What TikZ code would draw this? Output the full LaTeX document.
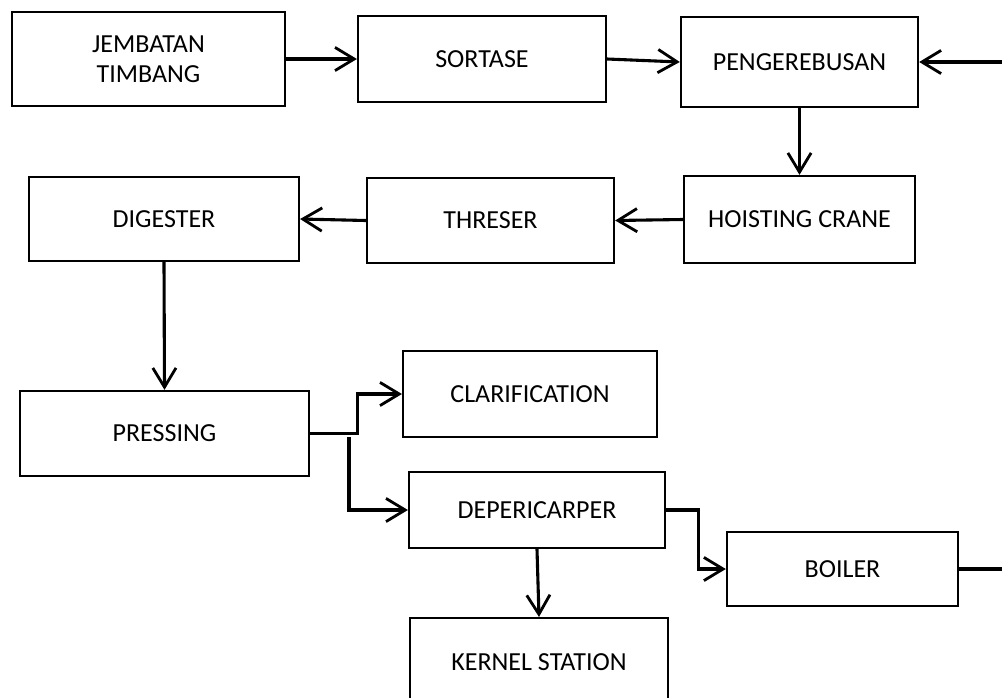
\documentclass[tikz,border=0pt]{standalone}
\usepackage{fontspec}
\setmainfont{Carlito}
\usepackage{tikz}
\usetikzlibrary{positioning, arrows.meta, calc}

\begin{document}
\begin{tikzpicture}[
  x=0.025cm, y=-0.025cm,
  every node/.style={font=\fontsize{18.5}{21.5}\selectfont},
  box/.style={draw, line width=1.5pt, align=center, inner sep=2pt},
  flow/.style={-{Straight Barb[length=4.8mm,width=5.8mm,line width=2pt]},
               line width=2.2pt, line join=miter},
  link/.style={line width=2.2pt},
]
\useasboundingbox (0,0) rectangle (1002,698);

% --- free ends at the page edge ---
\coordinate (inR) at (1010,62);
\coordinate (outR) at (1010,569);
\coordinate (split) at (349,437);

% =========================================================
% Row 1 -- receiving
% =========================================================
\node[box, minimum width=6.83cm, minimum height=2.35cm] (jemb) at (148.5,59) {JEMBATAN\\TIMBANG};
\node[box, minimum width=6.2cm, minimum height=2.15cm] (sort) at (482,59) {SORTASE};
\node[box, minimum width=5.93cm, minimum height=2.25cm] (peng) at (799.5,62) {PENGEREBUSAN};
\draw[flow] (jemb) -- (sort);
\draw[flow] (sort.east) -- (peng.west);
\draw[flow] (inR) -- (peng.east);

% =========================================================
% Row 2 -- threshing
% =========================================================
\node[box, minimum width=5.78cm, minimum height=2.18cm] (hois) at (799.5,219.5) {HOISTING CRANE};
\node[box, minimum width=6.18cm, minimum height=2.13cm] (thre) at (490.5,220.5) {THRESER};
\node[box, minimum width=6.75cm, minimum height=2.1cm] (dige) at (164,219) {DIGESTER};
\draw[flow] (peng) -- (hois);
\draw[flow] (hois.west) -- (thre.east);
\draw[flow] (thre.west) -- (dige.east);

% =========================================================
% Row 3 -- pressing and separation
% =========================================================
\node[box, minimum width=7.23cm, minimum height=2.13cm] (pres) at (164.5,433.5) {PRESSING};
\node[box, minimum width=6.35cm, minimum height=2.15cm] (clar) at (530,394) {CLARIFICATION};
\node[box, minimum width=6.4cm, minimum height=1.9cm] (depe) at (537,510) {DEPERICARPER};
\draw[flow] (dige.south) -- (pres.north);
\draw[flow] (pres.east) -- ++(47,0) |- (clar.west);
\draw[flow] (split) |- (depe.west);

% =========================================================
% Row 4 -- boiler and kernel
% =========================================================
\node[box, minimum width=5.78cm, minimum height=1.85cm] (boil) at (842.5,569) {BOILER};
\node[box, minimum width=6.45cm, minimum height=2.2cm] (kern) at (539,662) {KERNEL STATION};
\draw[flow] (depe.east) -- ++(32,0) |- (boil.west);
\draw[flow] (depe.south) -- (kern.north);
\draw[link] (boil.east) -- (outR);

\end{tikzpicture}
\end{document}
